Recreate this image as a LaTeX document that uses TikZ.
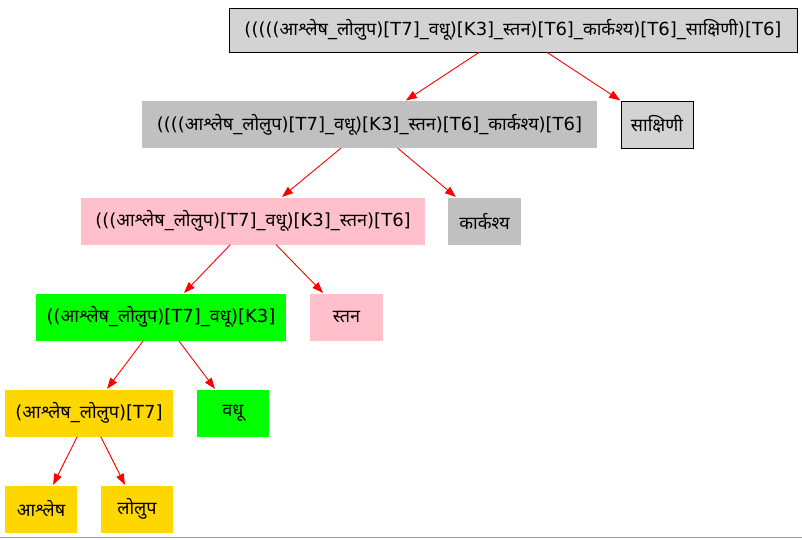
\documentclass[tikz,border=0pt]{standalone}
\usepackage{fontspec}
\setmainfont{DejaVu Sans}
\newfontfamily\dev[Script=Devanagari]{Noto Sans}
\usetikzlibrary{arrows.meta}
\newcommand{\dv}[1]{{\dev #1}}
\definecolor{lgrey}{HTML}{D3D3D3}
\definecolor{mgrey}{HTML}{C0C0C0}
\definecolor{pinkc}{HTML}{FFC0CB}
\definecolor{greenc}{HTML}{00FF00}
\definecolor{goldc}{HTML}{FFD700}
\tikzset{
  box/.style={rectangle, inner sep=0pt, minimum height=47pt, font=\fontsize{18pt}{21pt}\selectfont, text=black},
  framed/.style={box, draw=black, line width=0.9pt, fill=lgrey},
  edge/.style={draw=red, line width=0.9pt, -{Triangle[length=11pt,width=8pt]}, shorten >=0.5pt}
}
\begin{document}
\begin{tikzpicture}[x=1pt,y=-1pt]
\useasboundingbox (0,0) rectangle (802,539);
\node[framed, minimum width=568pt, minimum height=44pt] (n1) at (513,30)
  {(((((\dv{आश्लेष}\_\dv{लोलुप})[T7]\_\dv{वधू})[K3]\_\dv{स्तन})[T6]\_\dv{कार्कश्य})[T6]\_\dv{साक्षिणी})[T6]};
\node[box, fill=mgrey, minimum width=455pt] (n2) at (369.5,124.5)
  {((((\dv{आश्लेष}\_\dv{लोलुप})[T7]\_\dv{वधू})[K3]\_\dv{स्तन})[T6]\_\dv{कार्कश्य})[T6]};
\node[framed, minimum width=72pt] (s1) at (657,124.5) {\dv{साक्षिणी}};
\node[box, fill=pinkc, minimum width=344pt] (n3) at (253,221)
  {(((\dv{आश्लेष}\_\dv{लोलुप})[T7]\_\dv{वधू})[K3]\_\dv{स्तन})[T6]};
\node[box, fill=mgrey, minimum width=73pt] (s2) at (484.5,221) {\dv{कार्कश्य}};
\node[box, fill=greenc, minimum width=250pt] (n4) at (161,317)
  {((\dv{आश्लेष}\_\dv{लोलुप})[T7]\_\dv{वधू})[K3]};
\node[box, fill=pinkc, minimum width=73pt] (s3) at (346.5,317) {\dv{स्तन}};
\node[box, fill=goldc, minimum width=168pt] (n5) at (89,413)
  {(\dv{आश्लेष}\_\dv{लोलुप})[T7]};
\node[box, fill=greenc, minimum width=72pt] (s4) at (233,413) {\dv{वधू}};
\node[box, fill=goldc, minimum width=72pt] (a1) at (41,509) {\dv{आश्लेष}};
\node[box, fill=goldc, minimum width=72pt] (a2) at (137,509) {\dv{लोलुप}};
\draw[edge] (n1) -- (n2);
\draw[edge] (n1) -- (s1);
\draw[edge] (n2) -- (n3);
\draw[edge] (n2) -- (s2);
\draw[edge] (n3) -- (n4);
\draw[edge] (n3) -- (s3);
\draw[edge] (n4) -- (n5);
\draw[edge] (n4) -- (s4);
\draw[edge] (n5) -- (a1);
\draw[edge] (n5) -- (a2);
% rule along the lower edge
\draw[color=black!38, line width=1.5pt] (0,537.7) -- (802,537.7);
\end{tikzpicture}
\end{document}
